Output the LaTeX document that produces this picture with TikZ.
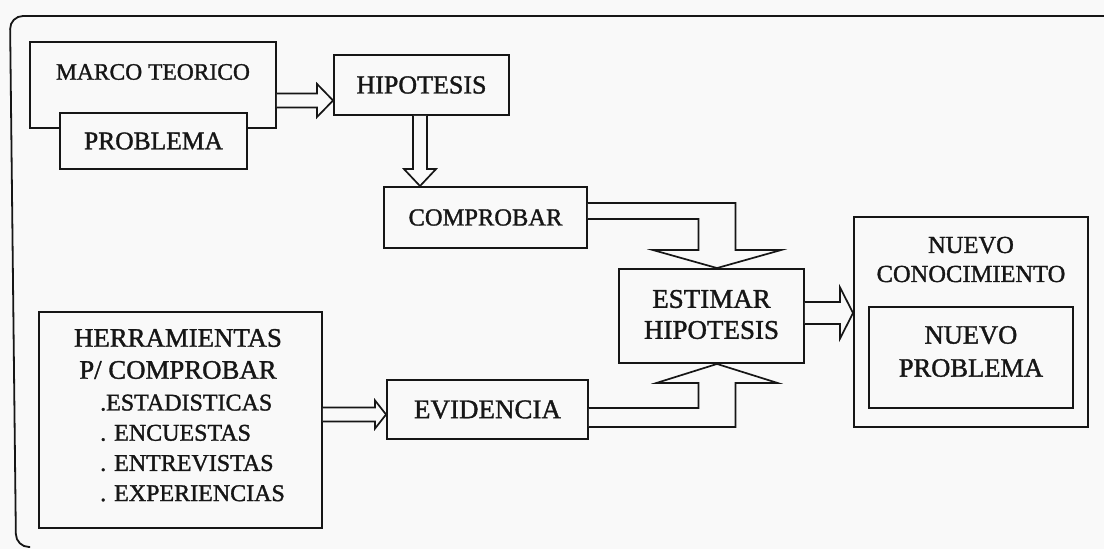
\documentclass[tikz,border=0pt]{standalone}
\usepackage{fontspec}
\setmainfont{Liberation Serif}[FakeBold=1.3]
\usetikzlibrary{calc}

\definecolor{paper}{RGB}{249,249,249}
\definecolor{ink}{RGB}{22,22,22}

\tikzset{
  box/.style={draw=ink, line width=1.9pt, fill=paper, inner sep=0pt},
  txt/.style={inner sep=0pt, text=ink, align=center},
  fatarrow/.style={draw=ink, line width=1.7pt, fill=paper, line join=miter},
  frame/.style={draw=ink, line width=1.8pt, rounded corners=13pt},
}

\newcommand{\fs}[2]{\fontsize{#1}{#2}\selectfont}

\begin{document}
\begin{tikzpicture}[x=1pt, y=-1pt]
  % canvas
  \fill[paper] (0,0) rectangle (1104,549);
  \useasboundingbox (0,0) rectangle (1104,549);

  % open outer frame (top and left sides)
  \draw[frame] (1110,16) -- (10,16) -- (16,547) -- (30,547);

  % boxes
  \node[box, minimum width=246, minimum height=86]  (marco)  at (153,85) {};
  \node[box, minimum width=187, minimum height=56]  (prob)   at (153.5,141) {};
  \node[box, minimum width=175, minimum height=60]  (hip)    at (421.5,85) {};
  \node[box, minimum width=203, minimum height=61]  (comp)   at (485.5,217.5) {};
  \node[box, minimum width=185, minimum height=94]  (est)    at (711.5,316) {};
  \node[box, minimum width=201, minimum height=59]  (evid)   at (487.5,409.5) {};
  \node[box, minimum width=234, minimum height=210] (nuevo)  at (971,322) {};
  \node[box, minimum width=204, minimum height=101] (nprob)  at (971,357.5) {};
  \node[box, minimum width=283, minimum height=216] (herr)   at (180.5,420) {};

  % labels
  \node[txt, font=\fs{23.5}{28}] (marcotxt) at (153,72)    {MARCO TEORICO};
  \node[txt, font=\fs{25.5}{30}] (probtxt)  at (prob)      {PROBLEMA};
  \node[txt, font=\fs{26}{30}]   (hiptxt)   at (hip)       {HIPOTESIS};
  \node[txt, font=\fs{24.5}{30}] (comptxt)  at (comp)      {COMPROBAR};
  \node[txt, font=\fs{27}{31}]   (esttxt)   at (711.5,314.5) {ESTIMAR\\HIPOTESIS};
  \node[txt, font=\fs{27}{31}]   (evidtxt)  at (evid)      {EVIDENCIA};
  \node[txt, font=\fs{24.5}{29}] (nuevotxt) at (971,259.5) {NUEVO\\CONOCIMIENTO};
  \node[txt, font=\fs{26.5}{33}] (nprobtxt) at (971,351.5) {NUEVO\\PROBLEMA};
  \node[txt, font=\fs{26.8}{32}] (herrtxt)  at (178,354)   {HERRAMIENTAS\\P/ COMPROBAR};
  \node[txt, font=\fs{24}{30.2}, align=left, anchor=west] (herrlist) at (100,448)
    {.ESTADISTICAS\\. ENCUESTAS\\. ENTREVISTAS\\. EXPERIENCIAS};

  % MARCO TEORICO / PROBLEMA -> HIPOTESIS
  \coordinate (a1t) at ($(hip.south west)!0.25!(hip.north west)$);
  \coordinate (a1s) at (marco.east |- a1t);
  \draw[fatarrow] ($(a1s)+(0,-7)$) -- ($(a1t)+(-16,-7)$) -- ($(a1t)+(-16,-16.5)$)
    -- (a1t) -- ($(a1t)+(-16,16.5)$) -- ($(a1t)+(-16,7)$) -- ($(a1s)+(0,7)$);

  % HIPOTESIS -> COMPROBAR
  \coordinate (a2s) at ($(hip.south)+(-1.5,0)$);
  \coordinate (a2t) at (a2s |- comp.north);
  \draw[fatarrow] ($(a2s)+(-7,0)$) -- ($(a2t)+(-7,-17)$) -- ($(a2t)+(-16,-17)$)
    -- (a2t) -- ($(a2t)+(16,-17)$) -- ($(a2t)+(7,-17)$) -- ($(a2s)+(7,0)$);

  % COMPROBAR -> ESTIMAR HIPOTESIS (bent)
  \coordinate (a3s) at ($(comp.east)+(0,-6.5)$);
  \coordinate (a3t) at ($(est.north)+(5.5,0)$);
  \coordinate (a3o) at ($(a3t)+(18.5,-18)$);
  \coordinate (a3i) at ($(a3t)+(-18.5,-18)$);
  \coordinate (a3u) at ($(a3s)+(0,-8)$);
  \coordinate (a3l) at ($(a3s)+(0,8)$);
  \draw[fatarrow] (a3u) -- (a3o |- a3u) -- (a3o) -- ($(a3t)+(64,-18)$) -- (a3t)
    -- ($(a3t)+(-64,-18)$) -- (a3i) -- (a3i |- a3l) -- (a3l);

  % EVIDENCIA -> ESTIMAR HIPOTESIS (bent)
  \coordinate (a4s) at ($(evid.east)+(0,8)$);
  \coordinate (a4t) at ($(est.south)+(5.5,0)$);
  \coordinate (a4o) at ($(a4t)+(18.5,19)$);
  \coordinate (a4i) at ($(a4t)+(-18.5,19)$);
  \coordinate (a4u) at ($(a4s)+(0,-9.5)$);
  \coordinate (a4l) at ($(a4s)+(0,9.5)$);
  \draw[fatarrow] (a4u) -- (a4i |- a4u) -- (a4i) -- ($(a4t)+(-60.5,19)$) -- (a4t)
    -- ($(a4t)+(60.5,19)$) -- (a4o) -- (a4o |- a4l) -- (a4l);

  % ESTIMAR HIPOTESIS -> NUEVO CONOCIMIENTO
  \coordinate (a5t) at ($(nuevo.west)+(0,-9)$);
  \coordinate (a5s) at (est.east |- a5t);
  \draw[fatarrow] ($(a5s)+(0,-11)$) -- ($(a5t)+(-13,-11)$) -- ($(a5t)+(-13,-25.5)$)
    -- (a5t) -- ($(a5t)+(-13,25.5)$) -- ($(a5t)+(-13,11)$) -- ($(a5s)+(0,11)$);

  % HERRAMIENTAS -> EVIDENCIA
  \coordinate (a6t) at ($(evid.west)+(0,5)$);
  \coordinate (a6s) at (herr.east |- a6t);
  \draw[fatarrow] ($(a6s)+(0,-7)$) -- ($(a6t)+(-11,-7)$) -- ($(a6t)+(-11,-14)$)
    -- (a6t) -- ($(a6t)+(-11,14)$) -- ($(a6t)+(-11,7)$) -- ($(a6s)+(0,7)$);
\end{tikzpicture}
\end{document}
